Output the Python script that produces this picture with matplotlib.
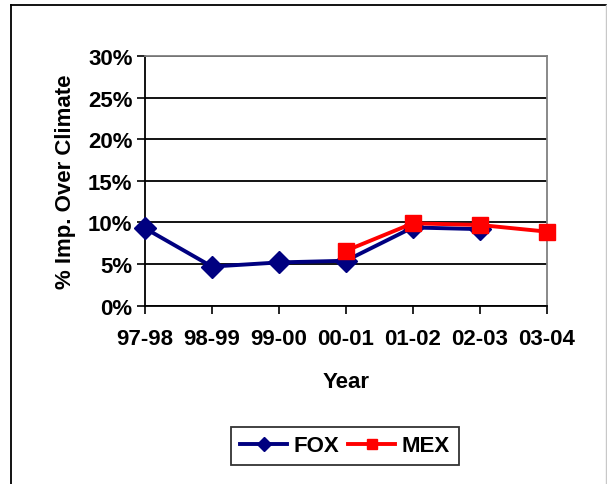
import matplotlib.pyplot as plt
from matplotlib.lines import Line2D
from matplotlib.ticker import FuncFormatter

# --- Data ---
years = ['97-98', '98-99', '99-00', '00-01', '01-02', '02-03', '03-04']
fox = [9.3, 4.7, 5.2, 5.4, 9.4, 9.2]
mex_years = ['00-01', '01-02', '02-03', '03-04']
mex = [6.6, 9.9, 9.7, 8.9]
y_ticks = [0, 5, 10, 15, 20, 25, 30]

plt.rcParams['font.family'] = ['Liberation Sans', 'DejaVu Sans']
plt.rcParams['font.weight'] = 'bold'

W, H = 607, 485
fig = plt.figure(figsize=(W / 100, H / 100), dpi=100)
ax = fig.add_axes([145 / W, 1 - 306.7 / H, (546.7 - 145) / W, (306.7 - 57) / H])

x_fox = [years.index(y) for y in years[:len(fox)]]
x_mex = [years.index(y) for y in mex_years]

ax.plot(x_fox, fox, color='#000080', linewidth=2.8, marker='D', markersize=11.5,
        label='FOX', zorder=3, clip_on=False)
ax.plot(x_mex, mex, color='#FF0000', linewidth=2.8, marker='s', markersize=11,
        label='MEX', zorder=4, clip_on=False)

ax.set_xlim(0, len(years) - 1)
ax.set_ylim(0, 30)
ax.set_xticks(range(len(years)))
ax.set_xticklabels(years)
ax.set_yticks(y_ticks)
ax.yaxis.set_major_formatter(FuncFormatter(lambda v, p: f'{v:.0f}%'))
ax.tick_params(axis='both', labelsize=16, length=6, width=1.2, color='black', direction='out')
ax.tick_params(axis='x', pad=10)
ax.tick_params(axis='y', pad=3)

ax.yaxis.grid(True, color='black', linewidth=1.3)
ax.set_axisbelow(True)

for s in ['left', 'bottom']:
    ax.spines[s].set_color('black')
    ax.spines[s].set_linewidth(1.3)
for s in ['right', 'top']:
    ax.spines[s].set_color('#808080')
    ax.spines[s].set_linewidth(1.3)

ax.set_xlabel('Year', fontsize=16, fontweight='bold', labelpad=16)
ax.set_ylabel('% Imp. Over Climate', fontsize=16, fontweight='bold', labelpad=9)

leg = ax.legend(loc='center', bbox_to_anchor=(345 / W, 1 - 447 / H),
                bbox_transform=fig.transFigure, ncol=2, fontsize=16,
                frameon=True, fancybox=False, handlelength=2.1,
                columnspacing=0.4, handletextpad=0.3, borderpad=0.4,
                borderaxespad=0, markerscale=0.6)
leg.get_frame().set_edgecolor('black')
leg.get_frame().set_linewidth(1.3)

# outer chart border (left, top, right)
fig.add_artist(Line2D([10.5 / W, 10.5 / W], [0, 1 - 6 / H], color='black', linewidth=1.3,
                      transform=fig.transFigure))
fig.add_artist(Line2D([10.5 / W, 606 / W], [1 - 6 / H, 1 - 6 / H], color='black', linewidth=1.3,
                      transform=fig.transFigure))
fig.add_artist(Line2D([606 / W, 606 / W], [0, 1 - 6 / H], color='#C8C8C8', linewidth=1,
                      transform=fig.transFigure))

fig.savefig('out.png', dpi=100)
